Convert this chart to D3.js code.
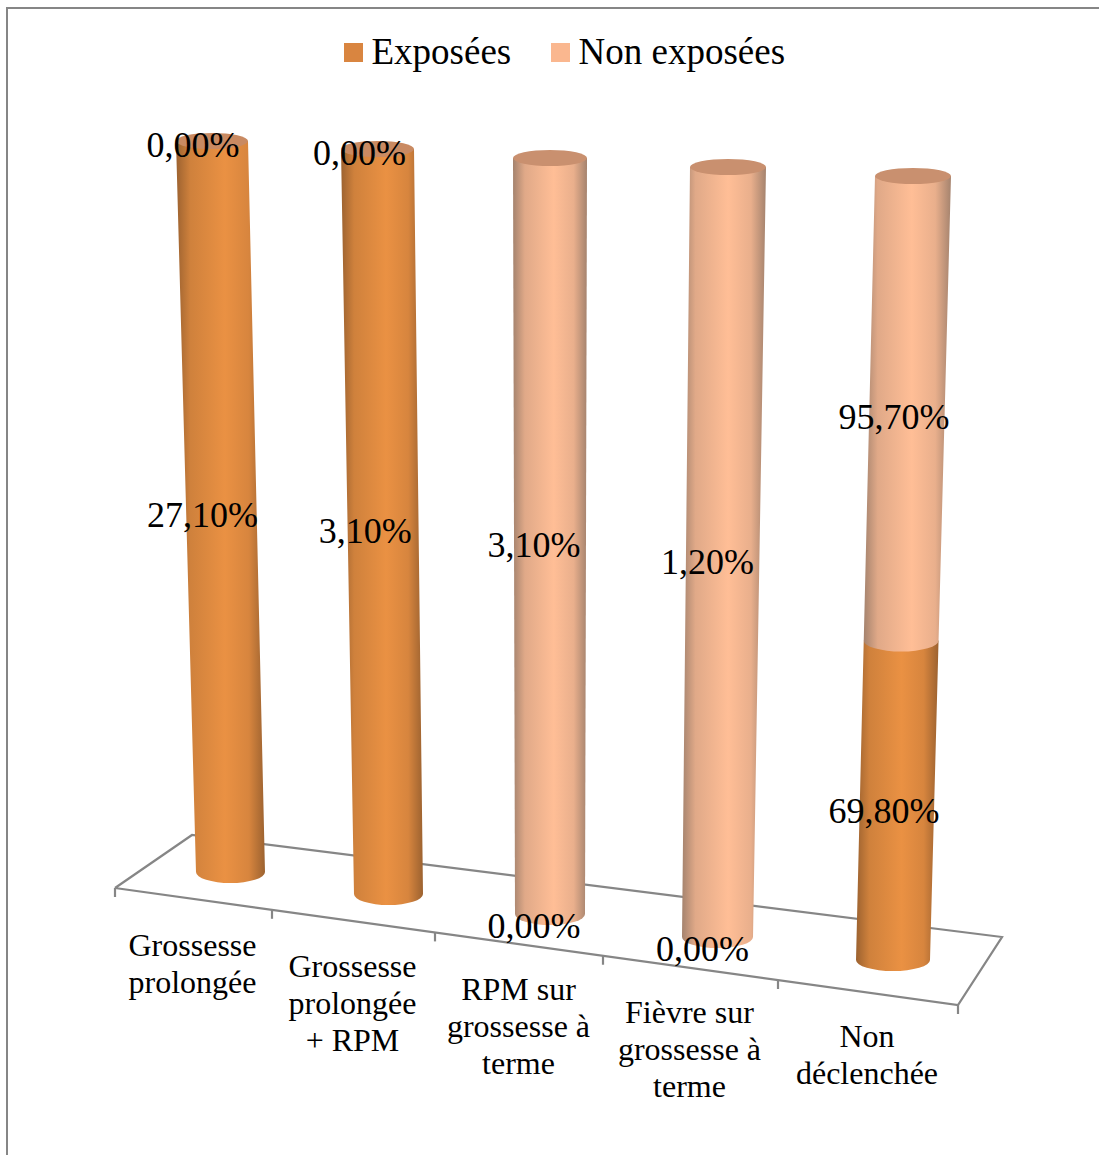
<!DOCTYPE html>
<html>
<head>
<meta charset="utf-8">
<script src="https://cdn.jsdelivr.net/npm/d3@7"></script>
<style>
    html, body { margin: 0; padding: 0; background: #fff; overflow: hidden; }
    text { font-family: "Liberation Serif", serif; fill: #000; }
</style>
</head>
<body>
<div id="chart"></div>
<script>
// chart values
const categories = [
    ["Grossesse", "prolongée"],
    ["Grossesse", "prolongée", "+ RPM"],
    ["RPM sur", "grossesse à", "terme"],
    ["Fièvre sur", "grossesse à", "terme"],
    ["Non", "déclenchée"]
];
const exposees = [27.1, 3.1, 0, 0, 69.8];
const nonExposees = [0, 0, 3.1, 1.2, 95.7];
const seriesNames = ["Exposées", "Non exposées"];

const width = 1099, height = 1155;
const idx = d3.range(categories.length);

// the 3D view: each category gets its own base and top point
const baseX = d3.scaleLinear().domain(idx).range([230.5, 388.5, 550, 717.5, 893]);
const baseY = d3.scaleLinear().domain(idx).range([872, 894, 914, 937, 960]);
const topX = d3.scaleLinear().domain(idx).range([212, 377.5, 550, 728, 913]);
const topY = d3.scaleLinear().domain(idx).range([141, 149, 158, 167, 176]);
const baseHalf = d3.scaleLinear().domain(idx).range([34.5, 34.5, 35, 35.5, 37]);
const topHalf = d3.scaleLinear().domain(idx).range([36, 36.5, 37, 38, 38]);
const labelShift = d3.scaleLinear().domain(idx).range([-19, -18, -16, -15, -13]);
const labelDrop = d3.scaleLinear().domain([0, 0.21, 0.5, 0.71, 1]).range([14, 8, 1, 9, 6]);
const catX = d3.scaleLinear().domain(idx).range([192.5, 352.5, 518.5, 689.5, 867]);
const catY = d3.scaleLinear().domain(idx).range([956, 977, 1000, 1023, 1047]);

// share of the stack -> position along the cylinder
const along = d3.scalePow().exponent(1.04).domain([0, 1]).range([0, 1]);
const lerp = (a, b, f) => a + (b - a) * along(f);
const xAt = (i, f) => lerp(baseX(i), topX(i), f);
const yAt = (i, f) => lerp(baseY(i), topY(i), f);
const halfAt = (i, f) => lerp(baseHalf(i), topHalf(i), f);

const rows = idx.map(i => ({[seriesNames[0]]: exposees[i], [seriesNames[1]]: nonExposees[i]}));
const stacked = d3.stack().keys(seriesNames).offset(d3.stackOffsetExpand)(rows);

const pct = d3.formatLocale({decimal: ",", thousands: " ", grouping: [3], currency: ["", "€"]}).format(".2f");

const svg = d3.select("#chart").append("svg")
    .attr("width", width)
    .attr("height", height)
    .style("display", "block");

// cylinder shading
const colors = d3.scaleOrdinal().domain(seriesNames).range(["#D98540", "#FAB78F"]);
const shades = [
    {edge: "#9c6230", light: "#EA9143", cap: "#C98A62"},
    {edge: "#a5836e", light: "#FFBE96", cap: "#C9906F"}
];
const defs = svg.append("defs");
shades.forEach((s, k) => {
    const grad = defs.append("linearGradient").attr("id", "cyl" + k);
    [[0, s.edge], [0.16, d3.interpolateRgb(s.edge, s.light)(0.65)], [0.55, s.light], [0.82, d3.interpolateRgb(s.edge, s.light)(0.75)], [1, s.edge]]
        .forEach(st => grad.append("stop").attr("offset", st[0]).attr("stop-color", st[1]));
});

// frame, only top and left fall inside the picture
svg.append("path")
    .attr("d", `M7,${height + 5}V8H${width + 5}`)
    .attr("fill", "none")
    .attr("stroke", "#868686")
    .attr("stroke-width", 2);

// floor
const floorX = d3.scaleLinear().domain(d3.range(categories.length + 1)).range([115, 272, 435, 603, 778, 958]);
const frontY = d3.scaleLinear().domain([115, 958]).range([888, 1005]);
const floor = svg.append("g")
    .attr("fill", "none")
    .attr("stroke", "#868686")
    .attr("stroke-width", 2.2);
floor.append("path").attr("d", "M115,888L192,835L1002,937L958,1005L115,888");
floor.selectAll(".tick")
    .data(floorX.domain())
    .enter().append("line")
    .attr("class", "tick")
    .attr("x1", d => floorX(d))
    .attr("x2", d => floorX(d))
    .attr("y1", d => frontY(floorX(d)))
    .attr("y2", d => frontY(floorX(d)) + 9);

// cylinders
function segment(i, f0, f1) {
    const x0 = xAt(i, f0), y0 = yAt(i, f0), h0 = halfAt(i, f0);
    const x1 = xAt(i, f1), y1 = yAt(i, f1), h1 = halfAt(i, f1);
    return `M${x0 - h0},${y0}L${x1 - h1},${y1}L${x1 + h1},${y1}L${x0 + h0},${y0}A${h0},11 0 0 1 ${x0 - h0},${y0}Z`;
}

const bars = svg.append("g");
idx.forEach(i => {
    stacked.forEach((s, k) => {
        const [f0, f1] = s[i];
        if (f1 - f0 <= 0) return;
        bars.append("path")
            .attr("d", segment(i, f0, f1))
            .attr("fill", `url(#cyl${k})`);
        if (f1 === 1) {
            bars.append("ellipse")
                .attr("cx", xAt(i, 1))
                .attr("cy", yAt(i, 1))
                .attr("rx", halfAt(i, 1))
                .attr("ry", 8)
                .attr("fill", shades[k].cap);
        }
    });
});

// value labels
stacked.forEach((s, k) => {
    const values = k === 0 ? exposees : nonExposees;
    svg.append("g").selectAll("text")
        .data(idx)
        .enter().append("text")
        .attr("text-anchor", "middle")
        .style("font-size", "36px")
        .attr("x", i => xAt(i, (s[i][0] + s[i][1]) / 2) + labelShift(i))
        .attr("y", i => {
            const mid = (s[i][0] + s[i][1]) / 2;
            return yAt(i, mid) + labelDrop(mid) + 10;
        })
        .text(i => pct(values[i]) + "%");
});

// category labels
idx.forEach(i => {
    svg.append("text")
        .attr("text-anchor", "middle")
        .style("font-size", "32px")
        .selectAll("tspan")
        .data(categories[i])
        .enter().append("tspan")
        .attr("x", catX(i))
        .attr("y", (d, j) => catY(i) + j * 37)
        .text(d => d);
});

// legend
const legendX = d3.scaleOrdinal().domain(seriesNames).range([344, 551]);
const legend = svg.append("g").selectAll("g")
    .data(seriesNames)
    .enter().append("g")
    .attr("transform", d => `translate(${legendX(d)},43)`);
legend.append("rect")
    .attr("width", 19)
    .attr("height", 19)
    .attr("fill", d => colors(d));
legend.append("text")
    .attr("x", 27.5)
    .attr("y", 21)
    .style("font-size", "37px")
    .text(d => d);
</script>
</body>
</html>
